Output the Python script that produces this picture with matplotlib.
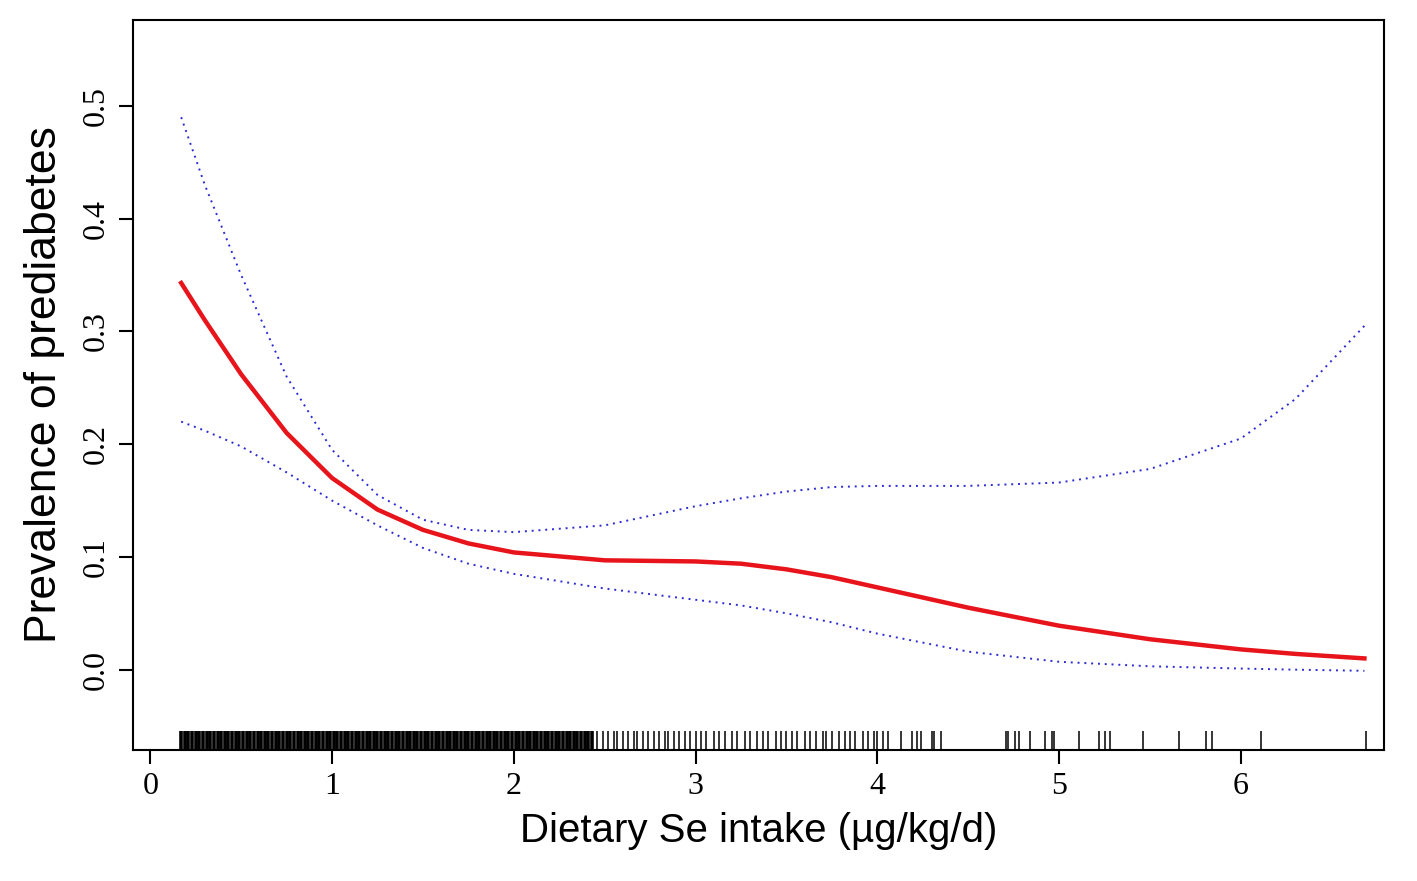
import numpy as np
import matplotlib
matplotlib.use("Agg")
import matplotlib.pyplot as plt

# fitted curve and 95% CI
se_x = [0.17, 0.3, 0.5, 0.75, 1.0, 1.25, 1.5, 1.75, 2.0, 2.5, 3.0, 3.25, 3.5, 3.75, 4.0, 4.5, 5.0, 5.5, 6.0, 6.3, 6.68]
fit = [0.343, 0.31, 0.262, 0.21, 0.170, 0.142, 0.124, 0.112, 0.104, 0.097, 0.096, 0.094, 0.089, 0.082, 0.073, 0.055, 0.039, 0.027, 0.018, 0.014, 0.010]
upper = [0.49, 0.43, 0.35, 0.26, 0.195, 0.155, 0.133, 0.124, 0.122, 0.128, 0.145, 0.152, 0.158, 0.162, 0.163, 0.163, 0.166, 0.178, 0.205, 0.240, 0.305]
lower = [0.22, 0.212, 0.198, 0.175, 0.150, 0.128, 0.108, 0.094, 0.085, 0.072, 0.062, 0.057, 0.050, 0.042, 0.032, 0.016, 0.007, 0.003, 0.001, 0.000, -0.001]

# observed intakes (rug): dense part
rug_dense = [0.17, 0.19, 0.21, 0.23, 0.25, 0.27, 0.29, 0.31, 0.33, 0.35, 0.37, 0.39, 0.41, 0.43, 0.45,
             0.47, 0.49, 0.51, 0.53, 0.55, 0.57, 0.59, 0.61, 0.63, 0.65, 0.67, 0.69, 0.71, 0.73, 0.75,
             0.77, 0.79, 0.81, 0.83, 0.85, 0.87, 0.89, 0.91, 0.93, 0.95, 0.97, 0.99, 1.01, 1.03, 1.05,
             1.07, 1.09, 1.11, 1.13, 1.15, 1.17, 1.19, 1.21, 1.23, 1.25, 1.27, 1.29, 1.31, 1.33, 1.35,
             1.37, 1.39, 1.41, 1.43, 1.45, 1.47, 1.49, 1.51, 1.53, 1.55, 1.57, 1.59, 1.61, 1.63, 1.65,
             1.67, 1.69, 1.71, 1.73, 1.75, 1.77, 1.79, 1.81, 1.83, 1.85, 1.87, 1.89, 1.91, 1.93, 1.95,
             1.97, 1.99, 2.01, 2.03, 2.05, 2.07, 2.09, 2.11, 2.13, 2.15, 2.17, 2.19, 2.21, 2.23, 2.25,
             2.27, 2.29, 2.31, 2.33, 2.35, 2.37, 2.39, 2.41, 2.43]
# observed intakes (rug): thinner part and tail
rug_sparse = [2.46, 2.49, 2.52, 2.55, 2.57, 2.6,
              2.63, 2.66, 2.68, 2.71, 2.74, 2.77, 2.8, 2.83, 2.85, 2.88, 2.91, 2.94, 2.97, 3.0, 3.03,
              3.06, 3.1, 3.13, 3.16, 3.2, 3.23, 3.27, 3.3, 3.34, 3.37, 3.4, 3.44, 3.47, 3.5, 3.53, 3.56,
              3.6, 3.63, 3.66, 3.7, 3.72, 3.75, 3.79, 3.82, 3.85, 3.88, 3.92, 3.95, 3.98, 4.0, 4.03,
              4.06, 4.13, 4.19, 4.22, 4.24, 4.30, 4.31, 4.35,
              4.71, 4.72, 4.76, 4.78, 4.84, 4.92, 4.96, 4.97, 5.11, 5.22, 5.25, 5.28, 5.46, 5.66,
              5.81, 5.84, 6.11, 6.69]

x_ticks = [0, 1, 2, 3, 4, 5, 6]
y_ticks = [0.0, 0.1, 0.2, 0.3, 0.4, 0.5]

fig = plt.figure(figsize=(14.17, 8.81), dpi=100)
ax = fig.add_axes([0.094, 0.149, 0.883, 0.828])

ax.plot(se_x, fit, color="#e8141b", lw=3.2)
ax.plot(se_x, upper, color="#2b2bd6", lw=1.4, ls=(0, (1, 2.5)))
ax.plot(se_x, lower, color="#2b2bd6", lw=1.4, ls=(0, (1, 2.5)))
ax.vlines(rug_dense, -0.071, -0.054, color="black", lw=2.6)
ax.vlines(rug_sparse, -0.071, -0.054, color="black", lw=1.1)

ax.set_xlim(-0.094, 6.79)
ax.set_ylim(-0.071, 0.576)
ax.set_xticks(x_ticks)
ax.set_yticks(y_ticks)
ax.set_xticklabels([str(t) for t in x_ticks], fontfamily="Liberation Serif", fontsize=23)
ax.set_yticklabels(["%.1f" % t for t in y_ticks], fontfamily="Liberation Serif", fontsize=23,
                   rotation=90, va="center")
ax.tick_params(length=10, width=1.5, pad=6)
for s in ax.spines.values():
    s.set_linewidth(1.5)

ax.set_xlabel("Dietary Se intake (\u00b5g/kg/d)", fontfamily="Liberation Sans", fontsize=29, labelpad=8)
ax.set_ylabel("Prevalence of prediabetes", fontfamily="Liberation Sans", fontsize=32, labelpad=12)

fig.savefig("out.png", dpi=100)
